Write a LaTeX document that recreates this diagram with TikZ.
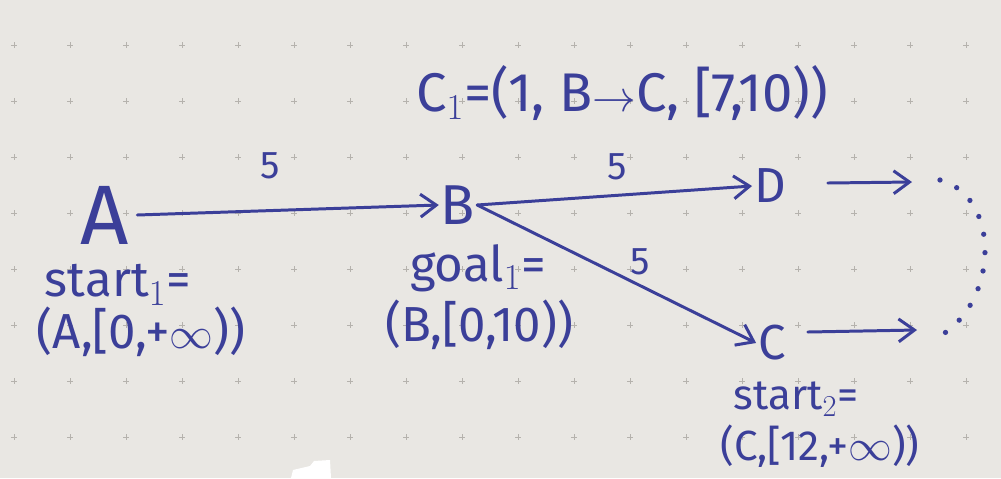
\documentclass[tikz,border=0pt]{standalone}
\usepackage{fontspec}
\setmainfont{Fira Sans}
\usetikzlibrary{arrows.meta}
\definecolor{ink}{HTML}{3B3F99}
\definecolor{paper}{HTML}{E9E7E3}
\definecolor{gridc}{HTML}{B5B2AD}
\tikzset{
  lbl/.style={text=ink, inner sep=1pt},
  big/.style={lbl, font=\fontsize{48}{50}\selectfont},
  mid/.style={lbl, font=\fontsize{32}{34}\selectfont},
  ann/.style={lbl, font=\fontsize{28}{30}\selectfont},
  sml/.style={lbl, inner sep=0pt, font=\fontsize{24}{26}\selectfont},
  wt/.style={lbl, font=\fontsize{22}{24}\selectfont},
  edge/.style={draw=ink, line width=1.7pt, line cap=round, -{Straight Barb[length=9pt, width=13pt, line width=1.7pt]}},
  more/.style={draw=ink, line width=3pt, line cap=round, dash pattern=on 0pt off 10.5pt},
  gridmark/.style={draw=gridc, line width=0.5pt}
}
\begin{document}
\begin{tikzpicture}[x=0.02cm, y=-0.02cm]
  \fill[paper] (0,0) rectangle (1001,478);
  \useasboundingbox (0,0) rectangle (1001,478);
  % dotted paper grid
  \foreach \i in {0,...,18} {
    \foreach \j in {0,...,8} {
      \draw[gridmark] ({14+56*\i-3},{45+56*\j}) -- ({14+56*\i+3},{45+56*\j})
                      ({14+56*\i},{45+56*\j-3}) -- ({14+56*\i},{45+56*\j+3});
    }
  }
  % paper blemish
  \fill[white] (291,478) -- (293,470) -- (310,466) -- (314,461) -- (330,460) -- (331,478) -- cycle;

  % vertices
  \node[big] (A) at (105,215) {A};
  \node[mid] (B) at (458,205) {B};
  \node[ann] (D) at (770,186) {D};
  \node[ann] (C) at (772,343) {C};

  % free ends
  \coordinate (dEnd) at (912,182);
  \coordinate (cEnd) at (917,330);

  % edges
  \draw[edge] (A.east) ++(6,0) -- (B.west);
  \draw[edge] (B.east) -- (D.west);
  \draw[edge] (B.east) -- (C.west);
  \draw[edge] (D.east) ++(40,-3) -- (dEnd);
  \draw[edge] (C.east) ++(20,-11) -- (cEnd);

  % edge weights
  \node[wt] (w1) at (270,166) {5};
  \node[wt] (w2) at (617,167) {5};
  \node[wt] (w3) at (640,262) {5};

  % annotations
  \node[ann] (s1a) at (118,285) {start$_1$=};
  \node[ann] (s1b) at (141,332) {(A,[0,+$\infty$))};
  \node[ann] (g1a) at (478,268) {goal$_1$=};
  \node[ann] (g1b) at (479,325) {(B,[0,10))};
  \node[lbl, font=\fontsize{31}{33}\selectfont] (c1) at (622,93) {C$_1$=(1, B$\rightarrow$C, [7,10))};
  \node[sml] (s2a) at (796,399) {start$_2$=};
  \node[sml] (s2b) at (820,446) {(C,[12,+$\infty$))};

  % continuation dots
  \draw[more] (940,180) .. controls (1000,196) and (1000,300) .. (940,336);
\end{tikzpicture}
\end{document}
